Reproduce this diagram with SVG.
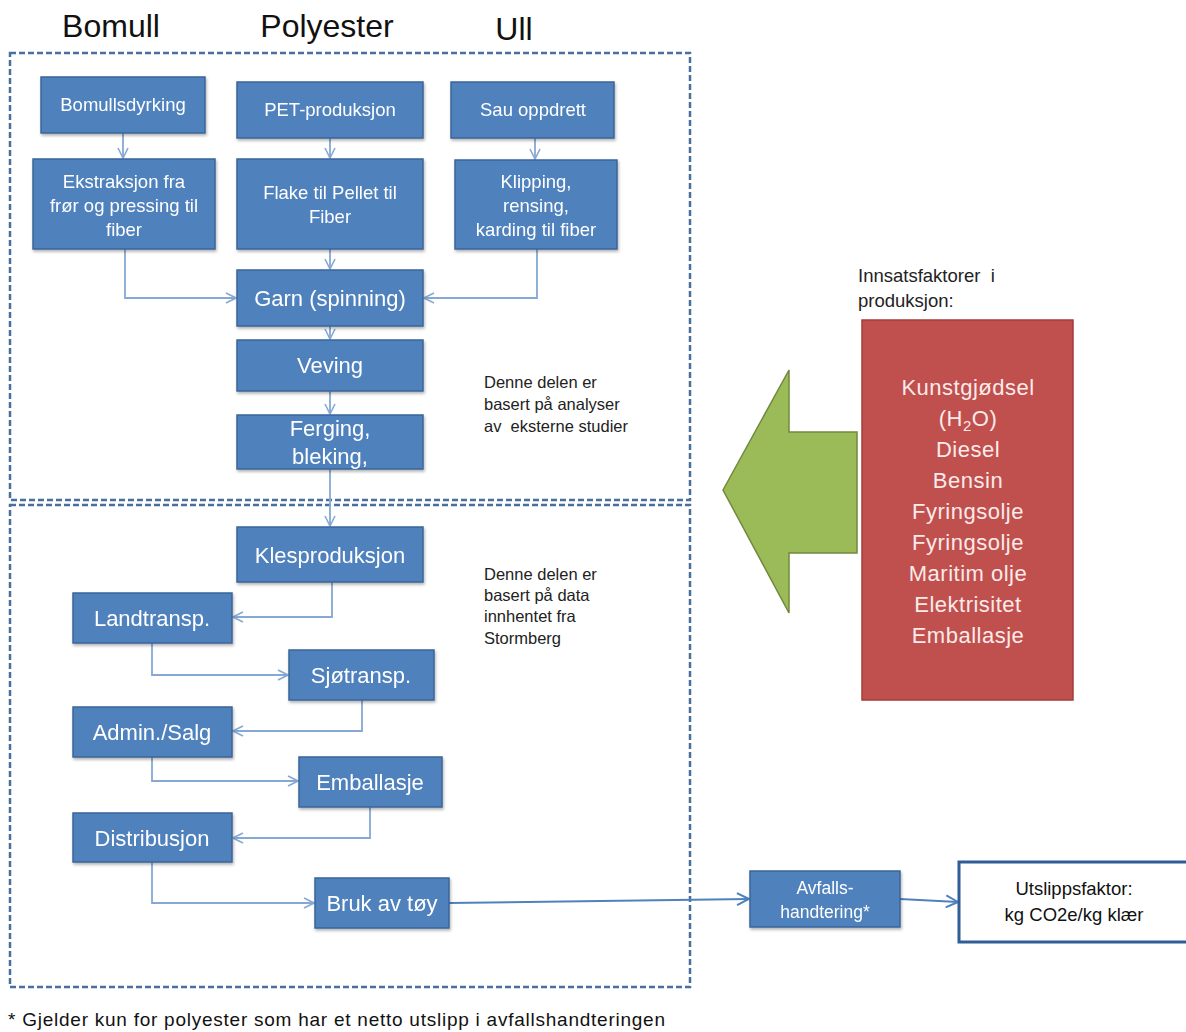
<svg xmlns="http://www.w3.org/2000/svg" width="1186" height="1032" viewBox="0 0 1186 1032">
<style>
.hdr{font-family:"Liberation Sans",Arial,sans-serif;font-size:32px;fill:#111;text-anchor:middle}
.n rect{fill:#4f81bd;stroke:#3a659a;stroke-width:1.5}
.n text{font-family:"Liberation Sans",Arial,sans-serif;fill:#fff;text-anchor:middle}
.s{font-size:18.5px}
.l{font-size:22px}
.frame{fill:none;stroke:#4a6f9f;stroke-width:2.5;stroke-dasharray:6 3}
.note{font-family:"Liberation Sans",Arial,sans-serif;font-size:16.5px;fill:#222;white-space:pre}
.c{fill:none;stroke:#86a8d4;stroke-width:1.8}
.red text{font-family:"Liberation Sans",Arial,sans-serif;font-size:22px;fill:#fbeaea;text-anchor:middle;letter-spacing:0.5px}
</style>
<defs>
<marker id="a" viewBox="0 0 12 12" refX="11" refY="6" markerWidth="12" markerHeight="12" markerUnits="userSpaceOnUse" orient="auto">
<path d="M1,1 L11,6 L1,11" fill="none" stroke="#86a8d4" stroke-width="1.6"/>
</marker>
<marker id="b" viewBox="0 0 14 14" refX="13" refY="7" markerWidth="14" markerHeight="14" markerUnits="userSpaceOnUse" orient="auto">
<path d="M1,1 L13,7 L1,13" fill="none" stroke="#4f81bd" stroke-width="2"/>
</marker>
<filter id="sh" x="-10%" y="-10%" width="130%" height="140%">
<feDropShadow dx="1" dy="2" stdDeviation="1.5" flood-color="#000" flood-opacity="0.3"/>
</filter>
</defs>
<rect width="1186" height="1032" fill="#fff"/>

<text class="hdr" x="111" y="37">Bomull</text>
<text class="hdr" x="327" y="37">Polyester</text>
<text class="hdr" x="514" y="40">Ull</text>

<rect class="frame" x="10" y="53" width="680" height="447"/>
<rect class="frame" x="10" y="505" width="680" height="482"/>

<g id="connectors">
<path class="c" d="M123,133 V158" marker-end="url(#a)"/>
<path class="c" d="M330,138 V158" marker-end="url(#a)"/>
<path class="c" d="M535,138 V159" marker-end="url(#a)"/>
<path class="c" d="M125,249 V298 H236" marker-end="url(#a)"/>
<path class="c" d="M330,249 V269" marker-end="url(#a)"/>
<path class="c" d="M537,249 V298 H424" marker-end="url(#a)"/>
<path class="c" d="M330,326 V339" marker-end="url(#a)"/>
<path class="c" d="M330,391 V414" marker-end="url(#a)"/>
<path class="c" d="M330,469 V526" marker-end="url(#a)"/>
<path class="c" d="M332,582 V617 H233" marker-end="url(#a)"/>
<path class="c" d="M152,643 V675 H288" marker-end="url(#a)"/>
<path class="c" d="M362,700 V731 H233" marker-end="url(#a)"/>
<path class="c" d="M152,757 V781 H298" marker-end="url(#a)"/>
<path class="c" d="M370,807 V838 H233" marker-end="url(#a)"/>
<path class="c" d="M152,862 V903 H314" marker-end="url(#a)"/>
<path d="M449,903 L749,899" fill="none" stroke="#4f81bd" stroke-width="2" marker-end="url(#b)"/>
<path d="M900,899 L958,902" fill="none" stroke="#4f81bd" stroke-width="2" marker-end="url(#b)"/>
</g>

<g id="bomullsdyrking" class="n" filter="url(#sh)"><rect x="41" y="77" width="164" height="56"/><text class="s" x="123" y="111">Bomullsdyrking</text></g>
<g id="pet" class="n" filter="url(#sh)"><rect x="237" y="82" width="186" height="56"/><text class="s" x="330" y="116">PET-produksjon</text></g>
<g id="sau" class="n" filter="url(#sh)"><rect x="451" y="82" width="163" height="56"/><text class="s" x="533" y="116">Sau oppdrett</text></g>
<g id="ekstraksjon" class="n" filter="url(#sh)"><rect x="33" y="159" width="182" height="90"/><text class="s" x="124" y="188">Ekstraksjon fra</text><text class="s" x="124" y="212">frør og pressing til</text><text class="s" x="124" y="236">fiber</text></g>
<g id="flake" class="n" filter="url(#sh)"><rect x="237" y="159" width="186" height="90"/><text class="s" x="330" y="199">Flake til Pellet til</text><text class="s" x="330" y="223">Fiber</text></g>
<g id="klipping" class="n" filter="url(#sh)"><rect x="455" y="160" width="162" height="89"/><text class="s" x="536" y="188">Klipping,</text><text class="s" x="536" y="212">rensing,</text><text class="s" x="536" y="236">karding til fiber</text></g>
<g id="garn" class="n" filter="url(#sh)"><rect x="237" y="270" width="186" height="56"/><text class="l" x="330" y="306">Garn (spinning)</text></g>
<g id="veving" class="n" filter="url(#sh)"><rect x="237" y="340" width="186" height="51"/><text class="l" x="330" y="373">Veving</text></g>
<g id="ferging" class="n" filter="url(#sh)"><rect x="237" y="415" width="186" height="54"/><text class="l" x="330" y="436">Ferging,</text><text class="l" x="330" y="464">bleking,</text></g>
<g id="klesproduksjon" class="n" filter="url(#sh)"><rect x="237" y="527" width="186" height="55"/><text class="l" x="330" y="563">Klesproduksjon</text></g>
<g id="landtransp" class="n" filter="url(#sh)"><rect x="73" y="593" width="159" height="50"/><text class="l" x="152" y="626">Landtransp.</text></g>
<g id="sjotransp" class="n" filter="url(#sh)"><rect x="289" y="650" width="145" height="50"/><text class="l" x="361" y="683">Sjøtransp.</text></g>
<g id="admin" class="n" filter="url(#sh)"><rect x="73" y="707" width="159" height="50"/><text class="l" x="152" y="740">Admin./Salg</text></g>
<g id="emballasje" class="n" filter="url(#sh)"><rect x="299" y="757" width="143" height="50"/><text class="l" x="370" y="790">Emballasje</text></g>
<g id="distribusjon" class="n" filter="url(#sh)"><rect x="73" y="813" width="159" height="49"/><text class="l" x="152" y="846">Distribusjon</text></g>
<g id="bruk" class="n" filter="url(#sh)"><rect x="315" y="878" width="134" height="50"/><text class="l" x="382" y="911">Bruk av tøy</text></g>
<g id="avfall" class="n" filter="url(#sh)"><rect x="750" y="871" width="150" height="56"/><text x="825" y="894" style="font-size:17.5px">Avfalls-</text><text x="825" y="918" style="font-size:17.5px">handtering*</text></g>
<g id="utslipp"><rect x="959" y="862" width="230" height="80" fill="#fff" stroke="#2f5d96" stroke-width="3"/><text x="1074" y="895" font-family="Liberation Sans,Arial,sans-serif" font-size="18.5" text-anchor="middle" fill="#111">Utslippsfaktor:</text><text x="1074" y="921" font-family="Liberation Sans,Arial,sans-serif" font-size="18.5" text-anchor="middle" fill="#111">kg CO2e/kg klær</text></g>

<text class="note" x="484" y="388">Denne delen er</text>
<text class="note" x="484" y="410">basert på analyser</text>
<text class="note" x="484" y="432">av  eksterne studier</text>

<text class="note" x="484" y="580">Denne delen er</text>
<text class="note" x="484" y="601">basert på data</text>
<text class="note" x="484" y="622">innhentet fra</text>
<text class="note" x="484" y="644">Stormberg</text>

<g id="arrow"><path d="M723,490 L789,370 L789,432 L857,432 L857,553 L789,553 L789,613 Z" fill="#9bbb59" stroke="#71893f" stroke-width="1.5"/></g>

<text x="858" y="282" font-family="Liberation Sans,Arial,sans-serif" font-size="18.5" fill="#222" style="white-space:pre">Innsatsfaktorer  i</text>
<text x="858" y="307" font-family="Liberation Sans,Arial,sans-serif" font-size="18.5" fill="#222">produksjon:</text>

<g id="inputs" class="red">
<rect x="862" y="320" width="211" height="380" fill="#c0504d" stroke="#a33c39" stroke-width="1.5"/>
<text x="968" y="395">Kunstgjødsel</text>
<text x="968" y="426">(H<tspan font-size="15" dy="5">2</tspan><tspan dy="-5">O)</tspan></text>
<text x="968" y="457">Diesel</text>
<text x="968" y="488">Bensin</text>
<text x="968" y="519">Fyringsolje</text>
<text x="968" y="550">Fyringsolje</text>
<text x="968" y="581">Maritim olje</text>
<text x="968" y="612">Elektrisitet</text>
<text x="968" y="643">Emballasje</text>
</g>

<text x="8" y="1026" font-family="Liberation Sans,Arial,sans-serif" font-size="19" fill="#111" textLength="657" lengthAdjust="spacing">* Gjelder kun for polyester som har et netto utslipp i avfallshandteringen</text>
</svg>
